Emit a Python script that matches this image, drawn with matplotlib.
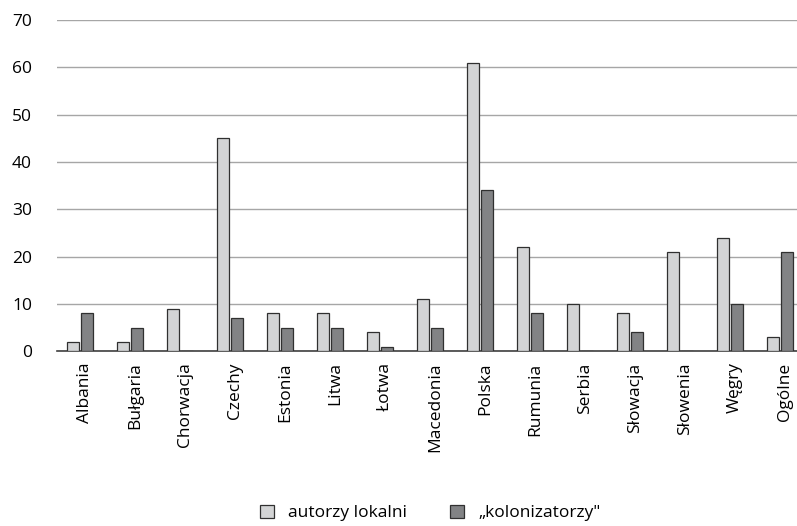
import numpy as np
import matplotlib
matplotlib.use("Agg")
import matplotlib.pyplot as plt
from matplotlib.patches import Patch

plt.rcParams['font.family'] = ['Open Sans', 'DejaVu Sans']

countries = ['Albania', 'Bułgaria', 'Chorwacja', 'Czechy', 'Estonia', 'Litwa', 'Łotwa',
             'Macedonia', 'Polska', 'Rumunia', 'Serbia', 'Słowacja', 'Słowenia', 'Węgry', 'Ogólne']
local = [2, 2, 9, 45, 8, 8, 4, 11, 61, 22, 10, 8, 21, 24, 3]
colonizers = [8, 5, 0, 7, 5, 5, 1, 5, 34, 8, 0, 4, 0, 10, 21]
yticks = [0, 10, 20, 30, 40, 50, 60, 70]

light = '#d3d4d5'
dark = '#828385'

fig = plt.figure(figsize=(7.97, 5.26), dpi=100)
ax = fig.add_axes([0.0715, 0.332, 0.9285, 0.630])

x = np.arange(len(countries))
w = 0.24
ax.bar(x - 0.145, local, w, color=light, edgecolor='#303030', linewidth=0.9, zorder=3)
ax.bar(x + 0.145, colonizers, w, color=dark, edgecolor='#303030', linewidth=0.9, zorder=3)

ax.set_ylim(0, 70)
ax.set_xlim(-0.46, 14.34)
ax.set_yticks(yticks)
ax.yaxis.grid(True, color='#a6a6a6', linewidth=1.0, zorder=0)
ax.set_xticks(x + 0.1)
ax.set_xticklabels(countries, rotation=90, fontsize=12.5)
ax.tick_params(axis='y', labelsize=12.5, length=0, pad=18)
ax.tick_params(axis='x', length=0, pad=8)
for s in ['top', 'right', 'left']:
    ax.spines[s].set_visible(False)
ax.spines['bottom'].set_color('#404040')
ax.spines['bottom'].set_linewidth(1.2)

handles = [Patch(facecolor=light, edgecolor='#303030', linewidth=0.9, label='autorzy lokalni'),
           Patch(facecolor=dark, edgecolor='#303030', linewidth=0.9, label='„kolonizatorzy"')]
fig.legend(handles=handles, loc='center', bbox_to_anchor=(0.54, 0.025), ncol=2, frameon=False,
           fontsize=12.5, handlelength=0.8, handleheight=0.8, columnspacing=2.5, handletextpad=0.8)

fig.savefig('out.png', dpi=100)
